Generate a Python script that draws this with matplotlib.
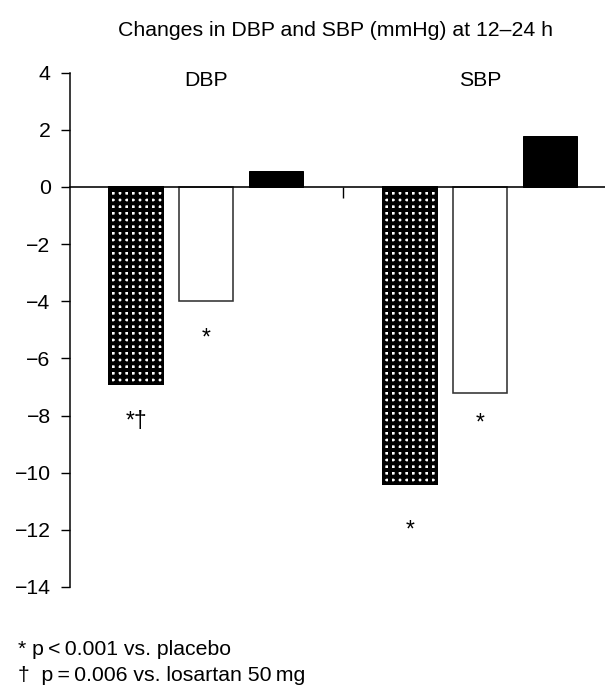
import matplotlib
matplotlib.use("Agg")
import matplotlib.pyplot as plt
import numpy as np

# ---- data ----
groups = ["DBP", "SBP"]
treat_dotted = [-6.9, -10.4]
treat_white = [-4.0, -7.2]
placebo = [0.55, 1.8]
sig_dotted = ["*\u2020", "*"]
sig_white = ["*", "*"]
yticks = [4, 2, 0, -2, -4, -6, -8, -10, -12, -14]
title = "Changes in DBP and SBP (mmHg) at 12\u201324 h"
footnotes = ["* p\u2009<\u20090.001 vs. placebo", "\u2020  p\u2009=\u20090.006 vs. losartan 50\u2009mg"]

DPI = 80
P = 72 / DPI  # points per pixel

plt.rcParams["font.family"] = ["Liberation Sans", "DejaVu Sans"]
plt.rcParams["hatch.linewidth"] = 4.0 * P

W, H = 605, 687
fig = plt.figure(figsize=(W / DPI, H / DPI), dpi=DPI)
ax = fig.add_axes([70 / W, (H - 587) / H, 1 - 70 / W, (587 - 72.7) / H])

group_pos = np.array([0.0, 3.92])
w = 0.77
fs = 21.2 * P
fs_sig = 23 * P

# dotted bars: white fill with thick black grid -> white squares on black, black outline
ax.bar(group_pos - 1, treat_dotted, w, color="white", edgecolor="black", hatch="++", linewidth=0, zorder=2)
ax.bar(group_pos - 1, treat_dotted, w, fill=False, edgecolor="black", linewidth=2.0 * P, zorder=3)
ax.bar(group_pos, treat_white, w, color="white", edgecolor="#333333", linewidth=1.6 * P, zorder=2)
ax.bar(group_pos + 1, placebo, w, color="black", edgecolor="black", linewidth=1.0 * P, zorder=2)

ax.set_xlim((70 - 206) / 70, (605 - 206) / 70)
ax.set_ylim(-14, 4)

ax.spines["top"].set_visible(False)
ax.spines["right"].set_visible(False)
ax.spines["bottom"].set_position(("data", 0))
ax.spines["bottom"].set_zorder(4)
ax.spines["left"].set_linewidth(1.5 * P)
ax.spines["bottom"].set_linewidth(1.6 * P)

ax.set_xticks([(group_pos[0] + 1 + group_pos[1] - 1) / 2])
ax.set_xticklabels([""])
ax.tick_params(axis="x", direction="out", length=11 * P, width=1.4 * P)
ax.set_yticks(yticks)
ax.set_yticklabels([str(t).replace("-", "\u2212") for t in yticks], fontsize=fs)
ax.tick_params(axis="y", direction="out", length=9.3 * P, width=1.4 * P, pad=10 * P)

# group labels
for gx, g in zip(group_pos, groups):
    ax.text(gx, 3.74, g, ha="center", va="center", fontsize=fs)

# significance marks (baseline placed below bar end)
dotted_off = [-1.55, -1.85]
white_off = [-1.52, -1.3]
for i in range(len(groups)):
    ax.text(group_pos[i] - 1, treat_dotted[i] + dotted_off[i], sig_dotted[i],
            ha="center", va="baseline", fontsize=fs_sig)
    ax.text(group_pos[i], treat_white[i] + white_off[i], sig_white[i],
            ha="center", va="baseline", fontsize=fs_sig)

fig.text(335.5 / W, 1 - 30 / H, title, ha="center", va="center", fontsize=fs)
fig.text(18 / W, 1 - 655 / H, footnotes[0], ha="left", va="baseline", fontsize=fs)
fig.text(18 / W, 1 - 681 / H, footnotes[1], ha="left", va="baseline", fontsize=fs)

fig.savefig("out.png", dpi=DPI)
